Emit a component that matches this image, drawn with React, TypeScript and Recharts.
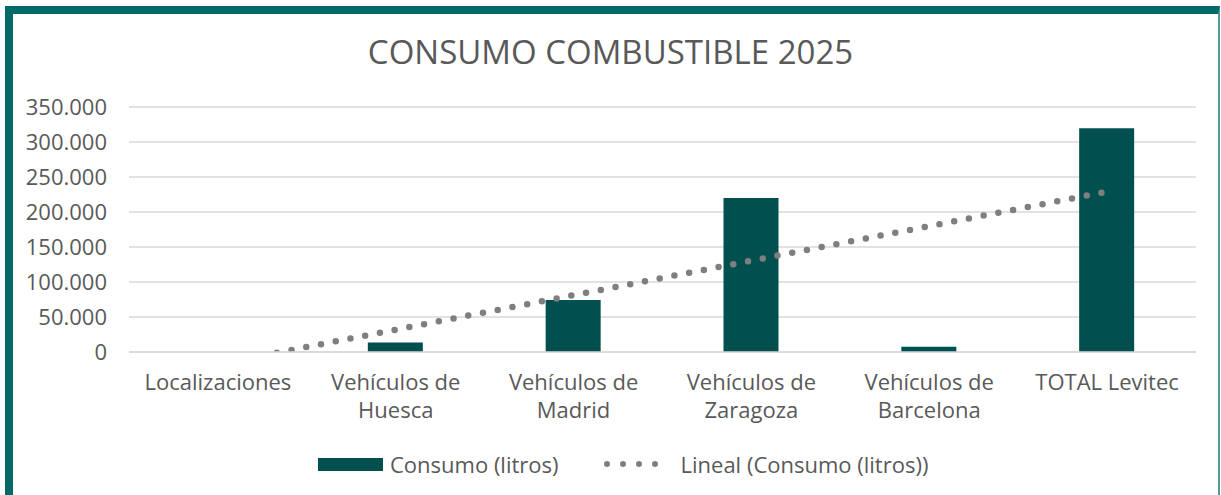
import { ComposedChart, Bar, Line, XAxis, YAxis, CartesianGrid } from "recharts";

const categories = [
  "Localizaciones",
  "Vehículos de Huesca",
  "Vehículos de Madrid",
  "Vehículos de Zaragoza",
  "Vehículos de Barcelona",
  "TOTAL Levitec",
];

const consumo = [0, 13500, 74300, 220000, 7600, 319500];

const yTicks = [0, 50000, 100000, 150000, 200000, 250000, 300000, 350000];

const TITLE = "CONSUMO COMBUSTIBLE 2025";
const SERIES_NAME = "Consumo (litros)";
const TREND_NAME = "Lineal (Consumo (litros))";

const BAR_COLOR = "#01504F";
const TREND_COLOR = "#7F7F7F";
const FRAME_COLOR = "#046A67";
const TEXT_COLOR = "#595959";
const FONT = "'Open Sans', 'Noto Sans', sans-serif";

// least squares trend line over category index, like Excel's linear trendline
function linearTrend(values: number[]) {
  const n = values.length;
  const xs = values.map((_, i) => i + 1);
  const mx = xs.reduce((a, b) => a + b, 0) / n;
  const my = values.reduce((a, b) => a + b, 0) / n;
  let sxy = 0;
  let sxx = 0;
  xs.forEach((x, i) => {
    sxy += (x - mx) * (values[i] - my);
    sxx += (x - mx) * (x - mx);
  });
  const slope = sxy / sxx;
  return xs.map((x) => my + slope * (x - mx));
}

const trend = linearTrend(consumo);

const data = categories.map((name, i) => ({
  name,
  consumo: consumo[i],
  trend: trend[i],
}));

function wrapLabel(text: string, maxChars: number) {
  const words = text.split(" ");
  const lines: string[] = [];
  let cur = "";
  words.forEach((w) => {
    const next = cur ? cur + " " + w : w;
    if (next.length > maxChars && cur) {
      lines.push(cur);
      cur = w;
    } else {
      cur = next;
    }
  });
  if (cur) lines.push(cur);
  return lines;
}

function CategoryTick(props: any) {
  const { x, y, payload } = props;
  const lines = wrapLabel(payload.value, 14);
  return (
    <text
      x={x}
      y={y}
      textAnchor="middle"
      fill={TEXT_COLOR}
      fontSize={22}
      fontFamily={FONT}
    >
      {lines.map((l, i) => (
        <tspan key={i} x={x} dy={i === 0 ? 30 : 28}>
          {l}
        </tspan>
      ))}
    </text>
  );
}

const formatThousands = (v: number) =>
  v === 0 ? "0" : v.toLocaleString("de-DE");

export default function App() {
  return (
    <div
      style={{
        position: "fixed",
        left: 0,
        top: 0,
        width: 1221,
        height: 495,
        background: "#ffffff",
        overflow: "hidden",
        fontFamily: FONT,
      }}
    >
      <div
        style={{
          position: "absolute",
          left: 5,
          top: 6,
          width: 1205,
          height: 520,
          borderLeft: `8px solid ${FRAME_COLOR}`,
          borderTop: `8px solid ${FRAME_COLOR}`,
          borderRight: `2px solid #4E9C98`,
        }}
      />
      <div
        style={{
          position: "absolute",
          left: 0,
          top: 29,
          width: 1221,
          textAlign: "center",
          fontSize: 33,
          color: TEXT_COLOR,
        }}
      >
        {TITLE}
      </div>
      <div style={{ position: "absolute", left: 0, top: 0 }}>
        <ComposedChart
          width={1221}
          height={495}
          data={data}
          margin={{ top: 107, right: 25, bottom: 83, left: 0 }}
          barCategoryGap="34%"
        >
          <CartesianGrid
            vertical={false}
            stroke="#D9D9D9"
            strokeWidth={1.5}
          />
          <XAxis
            dataKey="name"
            axisLine={{ stroke: "#D9D9D9", strokeWidth: 1.5 }}
            tickLine={false}
            interval={0}
            height={60}
            tick={<CategoryTick />}
          />
          <YAxis
            width={129}
            domain={[0, 350000]}
            ticks={yTicks}
            allowDataOverflow
            axisLine={false}
            tickLine={false}
            tickSize={0}
            tickMargin={22}
            tickFormatter={formatThousands}
            tick={{ fill: TEXT_COLOR, fontSize: 22, fontFamily: FONT }}
          />
          <Bar
            dataKey="consumo"
            name={SERIES_NAME}
            fill={BAR_COLOR}
            barSize={55}
            isAnimationActive={false}
          />
          <Line
            type="linear"
            dataKey="trend"
            name={TREND_NAME}
            stroke={TREND_COLOR}
            strokeWidth={6.5}
            strokeDasharray="0 15"
            strokeLinecap="round"
            dot={false}
            activeDot={false}
            isAnimationActive={false}
          />
        </ComposedChart>
      </div>
      <div
        style={{
          position: "absolute",
          left: 318,
          top: 447,
          height: 34,
          display: "flex",
          alignItems: "center",
          fontSize: 22,
          color: TEXT_COLOR,
          whiteSpace: "nowrap",
        }}
      >
        <div style={{ width: 65, height: 13, background: BAR_COLOR }} />
        <span style={{ marginLeft: 7 }}>{SERIES_NAME}</span>
        <svg width={70} height={10} style={{ marginLeft: 45 }}>
          <line
            x1={3}
            y1={5}
            x2={67}
            y2={5}
            stroke={TREND_COLOR}
            strokeWidth={6}
            strokeDasharray="0 16"
            strokeLinecap="round"
          />
        </svg>
        <span style={{ marginLeft: 7 }}>{TREND_NAME}</span>
      </div>
    </div>
  );
}
